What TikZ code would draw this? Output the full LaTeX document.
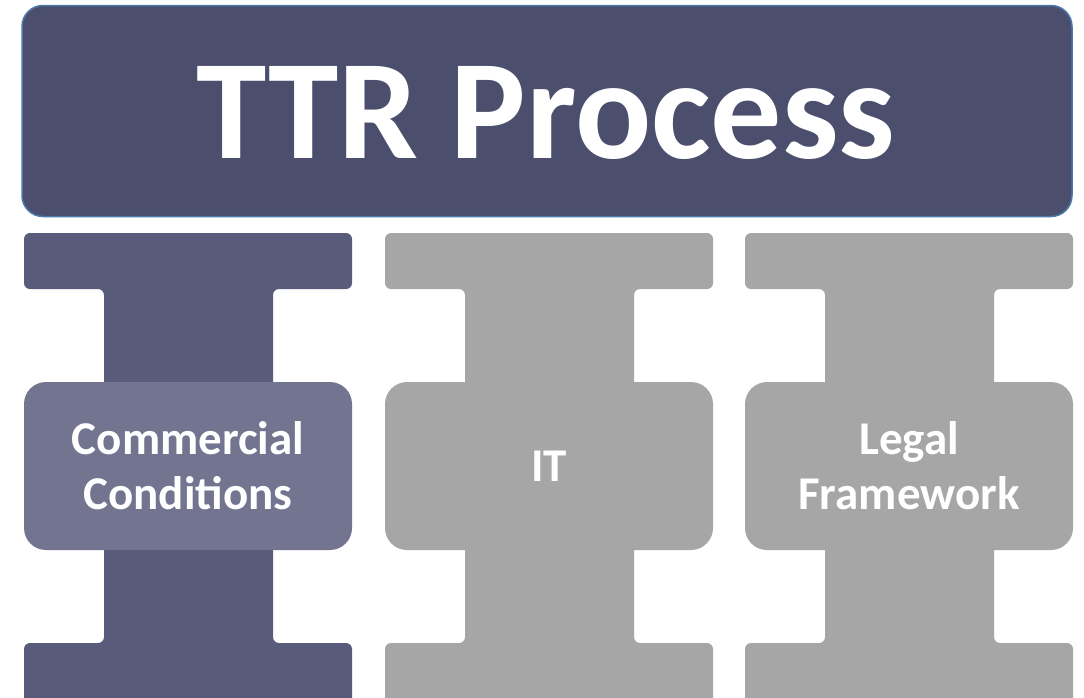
\documentclass[tikz,border=0pt]{standalone}
\usepackage{fontspec}
\setmainfont{Carlito}
\definecolor{titlefill}{HTML}{4B4E6D}
\definecolor{titleborder}{HTML}{4A7AAB}
\definecolor{darkcol}{HTML}{585B7A}
\definecolor{midcol}{HTML}{737490}
\definecolor{graycol}{HTML}{A6A6A6}
\tikzset{
  beam/.style={rounded corners=6pt},
  midbox/.style={rounded corners=22pt, minimum width=328pt, minimum height=168pt,
    inner sep=0pt, align=center, text=white,
    font=\bfseries\fontsize{47}{55}\selectfont},
  titlebox/.style={draw=titleborder, line width=1.5pt, fill=titlefill, rounded corners=21pt,
    minimum width=1050pt, minimum height=211pt, inner sep=0pt},
  titletext/.style={text=white, inner sep=0pt,
    font=\bfseries\fontsize{142}{160}\selectfont}
}
\newcommand{\ibeam}[2]{%
  \fill[beam,#2] (#1,233) -- ++(328,0) -- ++(0,56) -- ++(-79,0) -- ++(0,354)
    -- ++(79,0) -- ++(0,62) -- ++(-328,0) -- ++(0,-62) -- ++(80,0)
    -- ++(0,-354) -- ++(-80,0) -- cycle;}
\begin{document}
\begin{tikzpicture}[x=1pt,y=-1pt]
\useasboundingbox (0,0) rectangle (1084,697);
\clip (0,0) rectangle (1084,697);
\fill[white] (0,0) rectangle (1084,697);
\node[titlebox] (title) at (547,111) {};
\node[titletext] (titlelabel) at (546,113) {TTR Process};
\ibeam{24}{darkcol}
\ibeam{385}{graycol}
\ibeam{745}{graycol}
\node[midbox, fill=midcol] (cc) at (188,466) {Commercial\\Conditions};
\node[midbox, fill=graycol] (it) at (549,466) {IT};
\node[midbox, fill=graycol] (lf) at (909,466) {Legal\\Framework};
\end{tikzpicture}
\end{document}
